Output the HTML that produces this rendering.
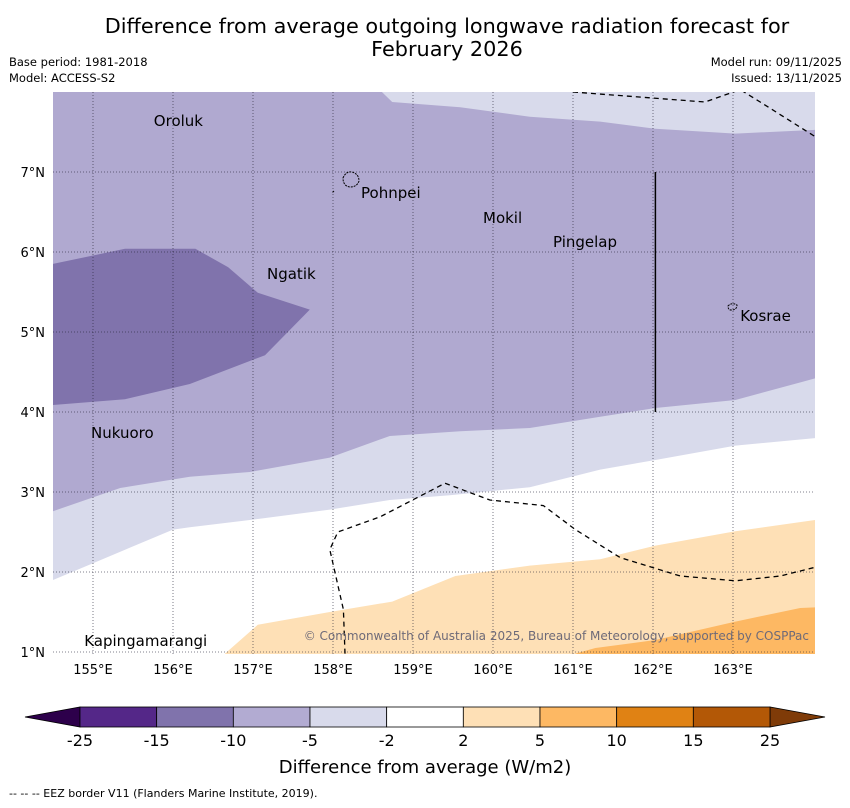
<!DOCTYPE html>
<html><head><meta charset="utf-8"><style>
body{margin:0;background:#fff;width:850px;height:804px;overflow:hidden;font-family:"DejaVu Sans","Liberation Sans",sans-serif}
svg text{font-family:"DejaVu Sans","Liberation Sans",sans-serif}
</style></head><body>
<svg width="850" height="804" viewBox="0 0 850 804">
<text x="447" y="33" font-size="20.8" text-anchor="middle">Difference from average outgoing longwave radiation forecast for</text>
<text x="447" y="56" font-size="20.8" text-anchor="middle">February 2026</text>
<text x="9" y="66" font-size="11.5">Base period: 1981-2018</text>
<text x="9" y="82" font-size="11.5">Model: ACCESS-S2</text>
<text x="842" y="66" font-size="11.5" text-anchor="end">Model run: 09/11/2025</text>
<text x="842" y="82" font-size="11.5" text-anchor="end">Issued: 13/11/2025</text>
<defs><clipPath id="mc"><rect x="53" y="92" width="762" height="562"/></clipPath></defs>
<g id="map" clip-path="url(#mc)">
<rect x="53" y="92" width="762" height="562" fill="#fff"/>
</g>
<g id="axes"></g>
<g id="cbar"></g>
<text x="425" y="773" font-size="18" text-anchor="middle">Difference from average (W/m2)</text>
<text x="9" y="797" font-size="11">--  --  -- EEZ border V11 (Flanders Marine Institute, 2019).</text>
</svg>
<script>
// data (lon, lat)
const lightRegion=[[154.5,8.05],[164.1,8.05],[164.1,3.68],[163.03,3.58],[162.03,3.4],[161.34,3.28],[160.46,3.06],[159.46,2.96],[158.71,2.9],[157.96,2.78],[156.96,2.65],[156.21,2.56],[156,2.53],[155,2.11],[154.5,1.9]];
const medRegion=[[154.5,8.05],[158.56,8.05],[158.74,7.875],[159.59,7.81],[160.46,7.69],[161.34,7.63],[162.03,7.54],[163.03,7.48],[164.1,7.53],[164.1,4.44],[163.03,4.15],[162.03,4.05],[161.34,3.94],[160.46,3.8],[159.59,3.76],[158.71,3.7],[157.96,3.43],[156.96,3.25],[156.21,3.19],[155.34,3.05],[154.5,2.76]];
const darkRegion=[[154.4,5.83],[155.4,6.04],[156.28,6.04],[156.69,5.81],[157.06,5.49],[157.71,5.28],[157.15,4.71],[156.21,4.35],[155.4,4.16],[154.4,4.08]];
const orangeRegion=[[156.65,0.9],[156.65,0.98],[157.06,1.34],[157.96,1.5],[158.74,1.63],[159.53,1.95],[160.46,2.08],[161.34,2.16],[162.03,2.33],[163.03,2.51],[164.1,2.66],[164.1,0.9]];
const orange2Region=[[161.03,0.9],[161.03,0.98],[161.28,1.05],[162.03,1.15],[163.03,1.38],[163.84,1.55],[164.1,1.56],[164.1,0.9]];
const eez1=[[161,8],[162.65,7.875],[163.09,8.03],[163.34,7.875],[164.03,7.44]];
const eez2=[[158.15,0.98],[158.13,1.53],[157.96,2.28],[158.06,2.5],[158.59,2.69],[159.4,3.11],[159.96,2.9],[160.63,2.83],[161.03,2.53],[161.59,2.18],[162.34,1.95],[163.03,1.89],[163.59,1.95],[164.03,2.06]];
const lonTicks=[155,156,157,158,159,160,161,162,163];
const latTicks=[1,2,3,4,5,6,7];
const places=[["Oroluk",155.76,7.575],["Pohnpei",158.35,6.675],["Mokil",159.875,6.36],["Pingelap",160.75,6.06],["Ngatik",157.175,5.66],["Kosrae",163.09,5.14],["Nukuoro",154.975,3.675],["Kapingamarangi",154.89,1.075]];
const cbLevels=["-25","-15","-10","-5","-2","2","5","10","15","25"];
const cbColors=["#542788","#8073ac","#b2abd2","#d8daeb","#ffffff","#fee0b6","#fdb863","#e08214","#b35806"];
const ns="http://www.w3.org/2000/svg";
const X=lon=>93+(lon-155)*80, Y=lat=>172+(7-lat)*80;
function mk(t,a,p){const e=document.createElementNS(ns,t);for(const k in a)e.setAttribute(k,a[k]);p.appendChild(e);return e;}
const pts=arr=>arr.map(p=>X(p[0]).toFixed(1)+","+Y(p[1]).toFixed(1)).join(" ");
const map=document.getElementById('map');
[[lightRegion,"#d8daeb","region-minus2-to-minus5"],[medRegion,"#b0a9d0","region-minus5-to-minus10"],[darkRegion,"#8073ac","region-minus10-to-minus15"],[orangeRegion,"#fee0b6","region-2-to-5"],[orange2Region,"#fdb863","region-5-to-10"]].forEach(r=>{
 const e=mk('polygon',{points:pts(r[0]),fill:r[1]},map);
 
 
});
lonTicks.forEach(l=>{const e=mk('line',{x1:X(l),x2:X(l),y1:92,y2:654,stroke:"#223",'stroke-width':0.8,'stroke-dasharray':"1,2",opacity:0.75},map);
 
 });
latTicks.forEach(l=>{const e=mk('line',{x1:53,x2:815,y1:Y(l),y2:Y(l),stroke:"#223",'stroke-width':0.8,'stroke-dasharray':"1,2",opacity:0.75},map);
 
 });
[eez1,eez2].forEach(a=>{const e=mk('polyline',{points:pts(a),fill:"none",stroke:"#000",'stroke-width':1.3,'stroke-dasharray':"5,4"},map);
 
 });
let v=mk('line',{x1:X(162.03),x2:X(162.03),y1:Y(7),y2:Y(4),stroke:"#000",'stroke-width':1.5},map);


let isl=mk('path',{d:"M343,178 q3,-7 9,-6 q7,2 7,9 q-2,6 -9,6 q-7,-1 -7,-9z M728,306 q4,-4 9,-1 q0,5 -6,5 q-3,0 -3,-4z M334,191 l-2,2",fill:"none",stroke:"#000",'stroke-width':1,'stroke-dasharray':"2,1"},map);


places.forEach(p=>{const t=mk('text',{x:X(p[1]),y:Y(p[2]),'font-size':15},map);t.textContent=p[0];
 
 });
let c=mk('text',{x:809,y:640,'font-size':12,fill:"#6e6a78",'text-anchor':"end"},map);c.textContent="© Commonwealth of Australia 2025, Bureau of Meteorology, supported by COSPPac";


const ax=document.getElementById('axes');
lonTicks.forEach(l=>{const t=mk('text',{x:X(l),y:674,'font-size':13,'text-anchor':"middle"},ax);t.textContent=l+"°E";
 
 });
latTicks.forEach(l=>{const t=mk('text',{x:45,y:Y(l)+5,'font-size':13,'text-anchor':"end"},ax);t.textContent=l+"°N";
 
 });
const cb=document.getElementById('cbar');const x0=80,x1=770,w=(x1-x0)/cbColors.length;
let lt=mk('polygon',{points:`${x0},707 ${x0},727 25,717`,fill:"#2d004b",stroke:"#000",'stroke-width':0.8},cb);


let rt=mk('polygon',{points:`${x1},707 ${x1},727 825,717`,fill:"#7f3b08",stroke:"#000",'stroke-width':0.8},cb);


cbColors.forEach((col,i)=>{const r=mk('rect',{x:x0+i*w,y:707,width:w,height:20,fill:col,stroke:"#000",'stroke-width':0.8},cb);
 
 });
cbLevels.forEach((s,i)=>{const t=mk('text',{x:x0+i*w,y:746,'font-size':16,'text-anchor':"middle"},cb);t.textContent=s;
 
 });
</script>
</body></html>
